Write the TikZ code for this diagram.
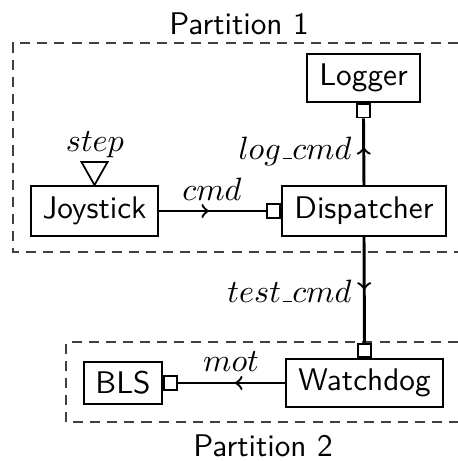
\documentclass[tikz,border=0pt]{standalone}
\usetikzlibrary{decorations.markings}
\newcommand\uscore{\mbox{\kern.06em\vbox{\hrule width .3em}}}
\begin{document}
\begin{tikzpicture}[x=0.339pt,y=-0.339pt,
  every node/.style={font=\fontsize{10.6}{12}\selectfont\sffamily},
  block/.style={draw, line width=0.6pt, inner sep=0pt},
  port/.style={draw, line width=0.6pt, fill=white, inner sep=0pt, minimum size=4.6pt},
  conn/.style={line width=1pt},
  midarrow/.style={postaction={decorate}, decoration={markings, mark=at position #1 with {\arrow[line width=0.8pt]{>}}}},
  part/.style={draw=black!75, line width=0.55pt, dash pattern=on 3.4pt off 2.4pt},
  lbl/.style={inner sep=0pt}]
\useasboundingbox (0,0) rectangle (458,461);
% partitions
\draw[part] (458,43) -| (13,252) -- (458,252);
\draw[part] (458,342) -| (66,422) -- (458,422);
\node[lbl] (p1) at (239,23.5) {Partition 1};
\node[lbl] (p2) at (263,446) {Partition 2};
% blocks
\node[block, minimum width=38.3pt, minimum height=16.3pt] (log) at (363.5,78) {Logger};
\node[block, minimum width=43pt, minimum height=17pt] (joy) at (94.5,211) {Joystick};
\node[block, minimum width=55.6pt, minimum height=17pt] (disp) at (364,211) {Dispatcher};
\node[block, minimum width=53.2pt, minimum height=16.3pt] (wd) at (364.5,383) {Watchdog};
\node[block, minimum width=26.4pt, minimum height=14.2pt] (bls) at (123,383) {BLS};
% ports
\node[port, anchor=north] (lp) at (log.south) {};
\node[port, anchor=east] (dp) at (disp.west) {};
\node[port, anchor=south] (wp) at (wd.north) {};
\node[port, anchor=west] (bp) at (bls.east) {};
% trigger
\draw[line width=0.6pt] (joy.north) -- ++(-13,-23) -- ++(26,0) -- cycle;
\node[lbl] (st) at (95,145) {$step$};
% connectors
\draw[conn, midarrow=0.57] (disp.north) -- (lp.south);
\draw[conn, midarrow=0.47] (joy.east) -- (dp.west);
\draw[conn, midarrow=0.5] (disp.south) -- (wp.north);
\draw[conn, midarrow=0.47] (wd.west) -- (bp.east);
% labels
\node[lbl, anchor=east] (lc) at (352,151) {$log\uscore cmd$};
\node[lbl] (c) at (212,189) {$cmd$};
\node[lbl, anchor=east] (tc) at (352,291) {$test\uscore cmd$};
\node[lbl] (m) at (231,362) {$mot$};
\end{tikzpicture}
\end{document}
